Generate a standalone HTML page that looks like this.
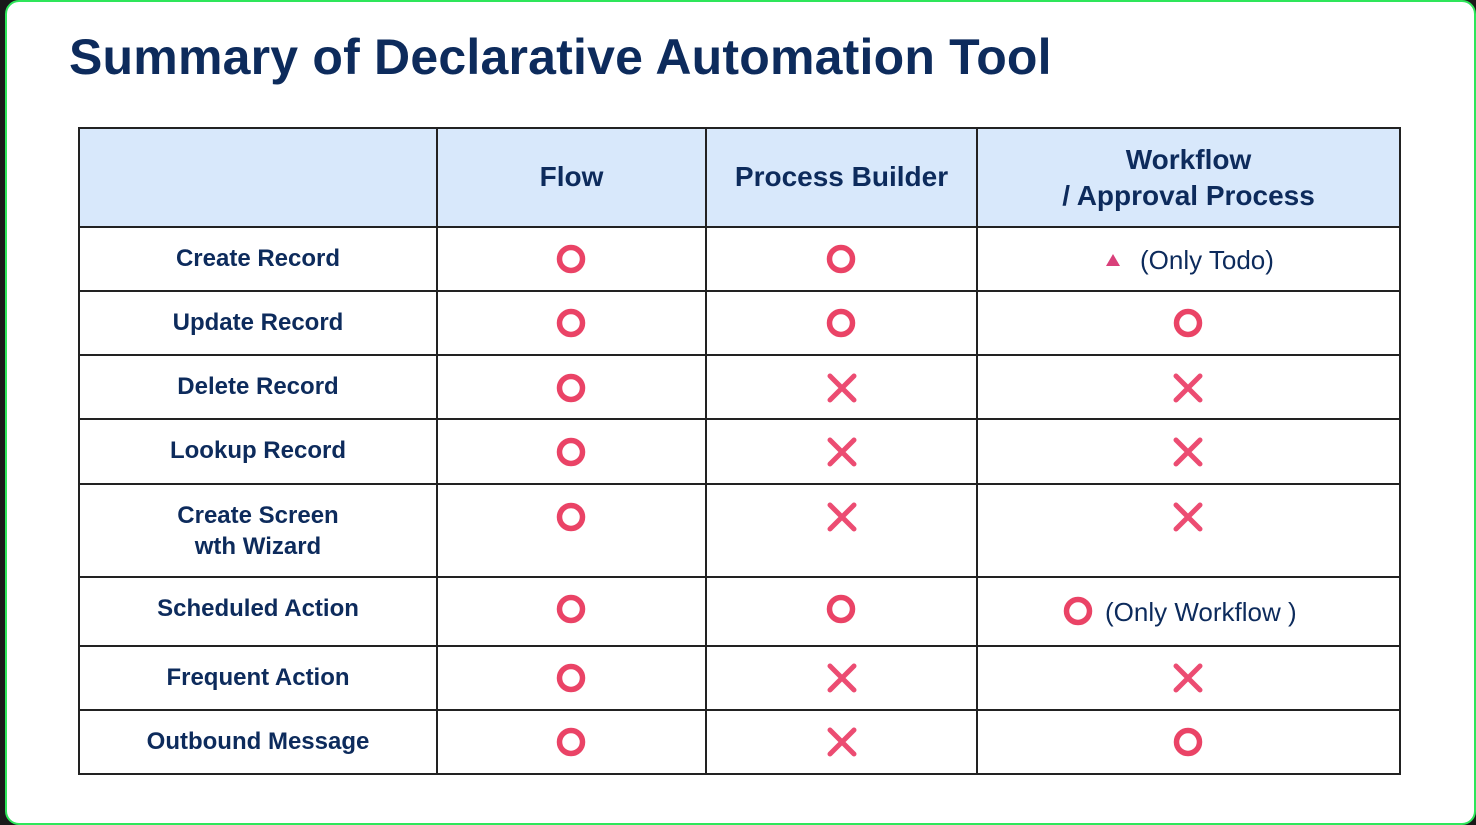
<!DOCTYPE html>
<html><head><meta charset="utf-8"><style>
*{margin:0;padding:0;box-sizing:border-box}
body{width:1476px;height:825px;background:#1a1a1a;position:relative;overflow:hidden;font-family:"Liberation Sans",sans-serif;color:#0d2b5c}
#panel{position:absolute;left:5px;top:0;width:1471px;height:825px;background:#fff;border:2px solid #2ee65a;border-radius:14px}
.t{position:absolute;text-align:center;font-weight:bold;white-space:nowrap}
.l{font-size:24px;left:79px;width:358px}
.h{font-size:28px}
.hl{position:absolute;background:#222;height:2px;left:78px;width:1323px}
.vl{position:absolute;background:#222;width:2px;top:127px;height:648px}
svg{position:absolute}
</style></head><body>
<div id="panel"></div>
<div class="t" style="left:69px;top:28px;font-size:50px;letter-spacing:0.2px;text-align:left">Summary of Declarative Automation Tool</div>
<div style="position:absolute;left:79px;top:128px;width:1321px;height:99px;background:#d8e8fb"></div>
<div class="hl" style="top:127px"></div><div class="hl" style="top:226px"></div><div class="hl" style="top:290px"></div><div class="hl" style="top:354px"></div><div class="hl" style="top:418px"></div><div class="hl" style="top:483px"></div><div class="hl" style="top:576px"></div><div class="hl" style="top:645px"></div><div class="hl" style="top:709px"></div><div class="hl" style="top:773px"></div>
<div class="vl" style="left:78px"></div><div class="vl" style="left:436px"></div><div class="vl" style="left:705px"></div><div class="vl" style="left:976px"></div><div class="vl" style="left:1399px"></div>
<div class="t h" style="left:437px;width:269px;top:161px">Flow</div>
<div class="t h" style="left:706px;width:271px;top:161px">Process Builder</div>
<div class="t h" style="left:977px;width:423px;top:142px;line-height:36px">Workflow<br>/ Approval Process</div>
<div class="t l" style="top:245px">Create Record</div>
<div class="t l" style="top:309px">Update Record</div>
<div class="t l" style="top:373px">Delete Record</div>
<div class="t l" style="top:437px">Lookup Record</div>
<div class="t l" style="top:500px;line-height:31px">Create Screen<br>wth Wizard</div>
<div class="t l" style="top:595px">Scheduled Action</div>
<div class="t l" style="top:664px">Frequent Action</div>
<div class="t l" style="top:728px">Outbound Message</div>
<div class="t" style="left:1140px;top:245px;font-size:26px;font-weight:normal">(Only Todo)</div>
<div class="t" style="left:1105px;top:597px;font-size:26px;font-weight:normal">(Only Workflow )</div>
<svg width="1476" height="825" style="left:0;top:0">
<defs>
<g id="o"><circle r="11.5" fill="none" stroke="#ea4366" stroke-width="5.5"/></g>
<g id="x"><path d="M-12,-12L12,12M12,-12L-12,12" stroke="#ec4c72" stroke-width="5" stroke-linecap="round"/></g>
</defs>
<use href="#o" x="571" y="259"/><use href="#o" x="841" y="259"/>
<path d="M1106,266L1113,254L1120,266Z" fill="#d9407a"/>
<use href="#o" x="571" y="323"/><use href="#o" x="841" y="323"/><use href="#o" x="1188" y="323"/>
<use href="#o" x="571" y="388"/><use href="#x" x="842" y="388"/><use href="#x" x="1188" y="388"/>
<use href="#o" x="571" y="452"/><use href="#x" x="842" y="452"/><use href="#x" x="1188" y="452"/>
<use href="#o" x="571" y="517"/><use href="#x" x="842" y="517"/><use href="#x" x="1188" y="517"/>
<use href="#o" x="571" y="609"/><use href="#o" x="841" y="609"/><use href="#o" x="1078" y="611"/>
<use href="#o" x="571" y="678"/><use href="#x" x="842" y="678"/><use href="#x" x="1188" y="678"/>
<use href="#o" x="571" y="742"/><use href="#x" x="842" y="742"/><use href="#o" x="1188" y="742"/>
</svg>
</body></html>
